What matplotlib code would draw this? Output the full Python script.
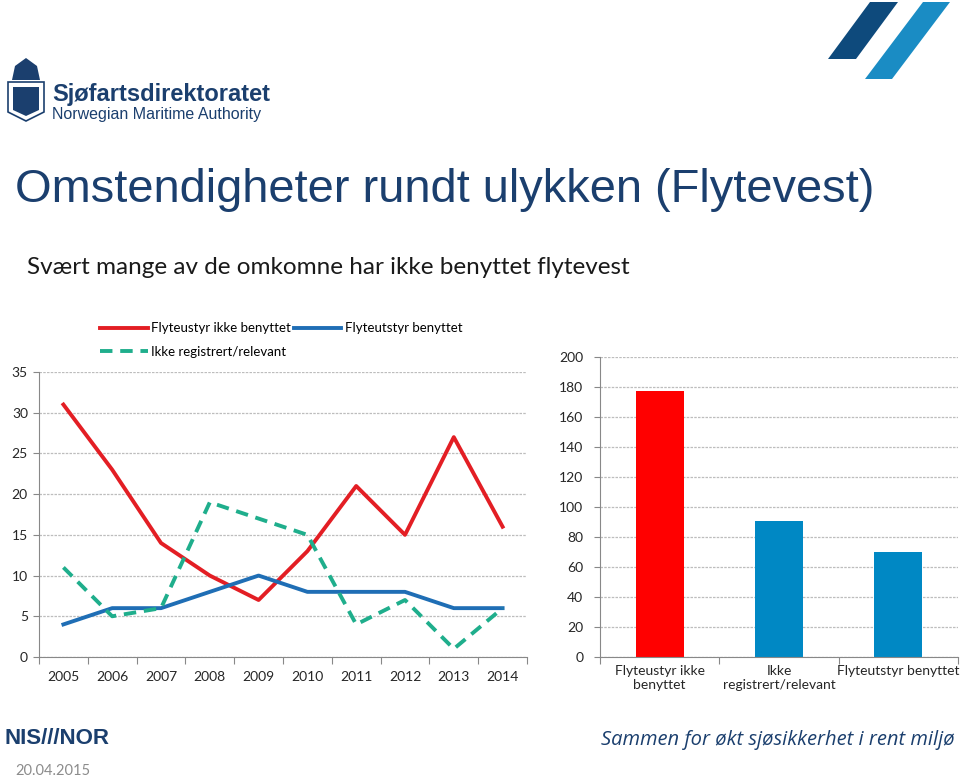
import matplotlib
matplotlib.use("Agg")
import matplotlib.pyplot as plt
from matplotlib.patches import Polygon

# data
years = ['2005', '2006', '2007', '2008', '2009', '2010', '2011', '2012', '2013', '2014']
ikke_benyttet = [31, 23, 14, 10, 7, 13, 21, 15, 27, 16]
benyttet = [4, 6, 6, 8, 10, 8, 8, 8, 6, 6]
ikke_reg = [11, 5, 6, 19, 17, 15, 4, 7, 1, 6]

bar_labels = ['Flyteustyr ikke\nbenyttet', 'Ikke\nregistrert/relevant', 'Flyteutstyr benyttet']
bar_values = [177, 91, 70]

red = '#E31E24'
blue = '#1F6EB5'
green = '#1FAE8C'
navy = '#1B3F6E'
txt = '#262626'

plt.rcParams['font.family'] = ['Lato', 'DejaVu Sans']

fig = plt.figure(figsize=(9.6, 7.8), dpi=100)
W, H = 960, 780

def fx(x):
    return x / W

def fy(y):
    return 1 - y / H

# header / footer
fig.text(fx(15), fy(190), 'Omstendigheter rundt ulykken (Flytevest)', fontsize=33.8,
         family='Liberation Sans', color=navy, va='center', ha='left')
fig.text(fx(27), fy(268), 'Svært mange av de omkomne har ikke benyttet flytevest', fontsize=17.5,
         color='#1a1a1a', va='center', ha='left')

fig.text(fx(52), fy(94), 'Sjøfartsdirektoratet', fontsize=17, fontweight='bold',
         family='Liberation Sans', color=navy, va='center', ha='left')
fig.text(fx(52), fy(115), 'Norwegian Maritime Authority', fontsize=11.5,
         family='Liberation Sans', color=navy, va='center', ha='left')
# small emblem
fig.patches.append(Polygon([(fx(8), fy(82)), (fx(44), fy(82)), (fx(44), fy(112)),
                            (fx(26), fy(121)), (fx(8), fy(112))], closed=True,
                           transform=fig.transFigure, facecolor='white', edgecolor=navy, lw=1.2))
fig.patches.append(Polygon([(fx(13), fy(87)), (fx(39), fy(87)), (fx(39), fy(110)),
                            (fx(26), fy(116)), (fx(13), fy(110))], closed=True,
                           transform=fig.transFigure, facecolor=navy, edgecolor='none'))
fig.patches.append(Polygon([(fx(12), fy(80)), (fx(40), fy(80)), (fx(37), fy(66)),
                            (fx(26), fy(58)), (fx(15), fy(66))], closed=True,
                           transform=fig.transFigure, facecolor=navy, edgecolor='none'))

# top right stripes
fig.patches.append(Polygon([(fx(870), fy(2)), (fx(898), fy(2)), (fx(856), fy(59)), (fx(828), fy(59))],
                           closed=True, transform=fig.transFigure, facecolor='#0E4A7C', edgecolor='none'))
fig.patches.append(Polygon([(fx(923), fy(2)), (fx(950), fy(2)), (fx(892), fy(79)), (fx(865), fy(79))],
                           closed=True, transform=fig.transFigure, facecolor='#1A8CC4', edgecolor='none'))

fig.text(fx(4), fy(739), 'NIS///NOR', fontsize=16, fontweight='bold', family='Liberation Sans',
         color=navy, va='center', ha='left')
fig.text(fx(955), fy(740), 'Sammen for økt sjøsikkerhet i rent miljø', fontsize=14.5, style='italic',
         family='Open Sans', color=navy, va='center', ha='right')
fig.text(fx(15), fy(771), '20.04.2015', fontsize=10.5, color='#8c8c8c', va='center', ha='left')

# line chart
ax = fig.add_axes([fx(39), fy(657), fx(527 - 39), (657 - 372) / H])
xs = [i + 0.5 for i in range(len(years))]
l1, = ax.plot(xs, ikke_benyttet, color=red, lw=2.8, label='Flyteustyr ikke benyttet')
l2, = ax.plot(xs, benyttet, color=blue, lw=2.8, label='Flyteutstyr benyttet')
l3, = ax.plot(xs, ikke_reg, color=green, lw=2.8, ls=(0, (3.2, 2)), label='Ikke registrert/relevant')
ax.set_xlim(0, len(years))
ax.set_ylim(0, 35)
ax.set_yticks(range(0, 36, 5))
ax.set_xticks(range(len(years) + 1))
ax.set_xticklabels([])
ax.set_xticks(xs, minor=True)
ax.set_xticklabels(years, minor=True)
ax.tick_params(axis='x', which='minor', length=0, pad=10, labelsize=10, labelcolor=txt)
ax.tick_params(axis='x', which='major', length=5, color='#888888')
ax.tick_params(axis='y', length=4, color='#888888', labelsize=10, labelcolor=txt, pad=4)
ax.grid(axis='y', color='#bdbdbd', lw=0.9, ls=(0, (2, 1)))
ax.set_axisbelow(True)
for s in ['top', 'right']:
    ax.spines[s].set_visible(False)
for s in ['left', 'bottom']:
    ax.spines[s].set_color('#888888')
ax.legend(handles=[l1, l3, l2], loc='lower left', bbox_to_anchor=(fx(100), fy(358)),
          bbox_transform=fig.transFigure, ncol=2, frameon=False, fontsize=9.5,
          handlelength=3.6, handletextpad=0.3, columnspacing=0.2, labelspacing=0.9,
          borderaxespad=0, borderpad=0)

# bar chart
bx = fig.add_axes([fx(600), fy(657), fx(958 - 600), (657 - 357) / H])
bpos = [i + 0.5 for i in range(len(bar_values))]
bx.bar(bpos, bar_values, width=0.4, color=['#FF0000', '#0088C4', '#0088C4'])
bx.set_xlim(0, len(bar_values))
bx.set_ylim(0, 200)
bx.set_yticks(range(0, 201, 20))
bx.set_xticks(range(len(bar_values) + 1))
bx.set_xticklabels([])
bx.set_xticks(bpos, minor=True)
bx.set_xticklabels(bar_labels, minor=True)
bx.tick_params(axis='x', which='minor', length=0, pad=6, labelsize=10, labelcolor=txt)
bx.tick_params(axis='x', which='major', length=5, color='#888888')
bx.tick_params(axis='y', length=4, color='#888888', labelsize=10, labelcolor=txt, pad=8)
bx.grid(axis='y', color='#bdbdbd', lw=0.9, ls=(0, (2, 1)))
bx.set_axisbelow(True)
for s in ['top', 'right']:
    bx.spines[s].set_visible(False)
for s in ['left', 'bottom']:
    bx.spines[s].set_color('#888888')

fig.savefig('out.png', dpi=100)
